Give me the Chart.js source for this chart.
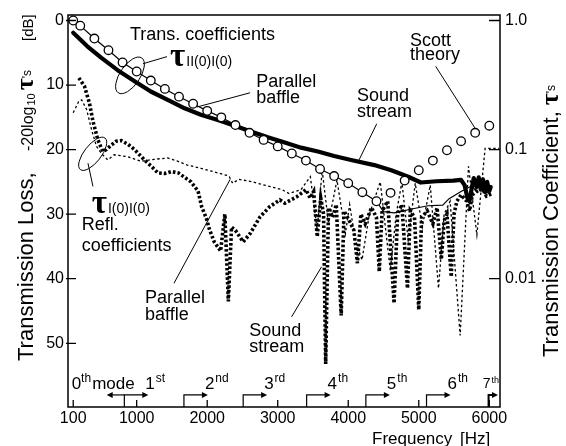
<!DOCTYPE html>
<html><head><meta charset="utf-8">
<script src="https://cdn.jsdelivr.net/npm/chart.js@4.4.1/dist/chart.umd.min.js"></script>
<style>html,body{margin:0;padding:0;background:#fff}canvas{display:block}</style>
</head><body>
<canvas id="c" width="566" height="446"></canvas>
<script>
// ---------------- data ----------------
const xTickValues = [100,1000,2000,3000,4000,5000,6000];
const yTickValues = [0,10,20,30,40,50];
const rightTickDb = [0,20,40];
const rightTickLabels = ['1.0','0.1','0.01'];

// Scott theory (open circles)
const scottFreq = [100,200,400,600,800,1000,1200,1400,1600,1800,2000,2200,2400,2600,2800,3000,3200,3400,3600,3800,4000,4200,4400,4600,4800,5000,5200,5400,5600,5800,6000];
const scottDb   = [0,0.8,2.8,4.6,6.5,7.9,9.3,10.6,11.8,12.9,14.0,15.0,16.2,17.4,18.5,19.5,20.6,21.7,23.0,24.1,25.2,26.6,28.0,26.7,24.8,23.2,21.7,20.1,18.7,17.4,16.3];

// Parallel baffle, transmission (thin solid)
const pbTransFreq = [100,200,400,600,800,1000,1200,1400,1600,1800,2000,2200,2400,2600,2800,3000,3200,3400,3600,3800,4000,4200,4400,4500,4650,4900,5130,5340,5430,5600,5700,5760,5800,5850,5900,5960,6020];
const pbTransDb   = [0,0.8,2.8,4.6,6.5,7.9,9.3,10.6,11.8,12.9,14.0,15.0,16.2,17.4,18.5,19.5,20.6,21.7,23.0,24.1,25.2,26.6,28.0,29.6,29.8,29.2,28.7,28.6,27.6,26.5,25.9,25.6,26.3,25.4,26.1,26.6,26.9];

// Sound stream, transmission (thick solid)
const ssTransFreq = [100,300,500,730,970,1200,1440,1680,1910,2150,2390,2620,2860,3100,3330,3570,3800,4040,4370,4610,4850,5030,5250,5490,5600,5650,5690,5720,5750,5780,5820,5850,5880,5910,5940,5970,6000,6020];
const ssTransDb   = [1.9,4.0,5.8,7.7,9.4,11.0,12.3,13.6,14.6,15.4,16.3,17.2,18.1,18.9,19.7,20.3,21.0,21.6,22.4,23.2,24.2,25.1,24.9,24.8,24.7,25.5,27.5,28.0,26.0,24.4,25.8,24.3,26.2,24.6,26.6,25.0,26.4,25.8];

// Parallel baffle, reflection (thin dotted)
const pbReflFreq = [100,180,220,290,360,430,500,590,680,870,1060,1250,1440,1580,1720,1910,2150,2310,2360,2450,2640,2880,3060,3160,3330,3463,3560,3630,3720,3840,3960,4020,4100,4195,4300,4454,4596,4680,4761,4850,4950,5050,5163,5280,5360,5445,5587,5705,5824,5941,6140];
const pbReflDb   = [14.3,12.5,12.3,13.8,16.9,19.5,20.6,21.6,20.8,21.1,21.8,21.5,21.3,21.8,22.4,22.9,23.6,24.1,25.2,24.6,25.0,25.7,26.2,26.8,26.2,24.2,32.5,23.2,31.4,24.7,33.0,28.5,34.0,37.1,30.0,25.0,38.7,30.0,25.0,34.0,25.2,32.0,25.5,41.5,30.0,28.0,48.8,22.6,33.2,19.8,19.8];

// Sound stream, reflection (thick dotted)
const ssReflFreq = [180,260,330,380,450,520,570,640,710,780,880,970,1110,1210,1300,1400,1490,1590,1680,1770,1870,1920,1990,2030,2100,2190,2250,2300,2345,2400,2510,2610,2750,2890,3030,3100,3270,3400,3460,3510,3560,3610,3650,3680,3720,3780,3830,3900,3940,4010,4080,4130,4180,4240,4330,4400,4440,4480,4560,4650,4700,4760,4840,4880,4940,5000,5040,5120,5200,5260,5320,5360,5400,5460,5500,5540,5600,5680,5720,5760,5820,5900,5960,6040];
const ssReflDb   = [8.9,10.2,12.8,15.6,18.5,20.3,20.0,19.3,18.7,18.6,19.2,20.0,21.6,22.6,23.6,23.7,23.4,23.6,24.3,25.0,26.4,28.8,30.7,32.3,34.3,35.7,30.0,43.5,32.0,32.5,34.3,33.0,30.4,28.8,27.8,28.3,27.3,26.2,27.5,26.5,33.5,27.5,30.0,53.2,29.0,30.5,28.5,45.7,29.5,30.9,32.5,37.6,30.0,31.5,29.0,30.5,38.9,29.5,28.0,43.8,30.0,28.5,41.5,29.5,30.5,44.8,30.5,29.5,31.5,29.0,37.0,31.0,30.0,39.7,30.0,28.0,27.0,28.0,29.5,27.0,26.5,26.0,27.2,26.8];

// Mode cut-on frequencies
const modeCutoffs = [825,1670,2510,3410,4250,5110,5990];
const modeNumbers = ['1','2','3','4','5','6','7'];
const modeSuffixes = ['st','nd','rd','th','th','th','th'];
const zerothModeArrowEnd = 575;

// ---------------- annotations (in data units) ----------------
const annoTexts = [
  {f:905,  db:2.95, t:'Trans. coefficients'},
  {f:2695, db:10.25, t:'Parallel'}, {f:2695, db:12.75, t:'baffle'},
  {f:4124, db:12.5, t:'Sound'}, {f:4124, db:14.95, t:'stream'},
  {f:4875, db:3.9, t:'Scott'}, {f:4875, db:6.05, t:'theory'},
  {f:220,  db:32.45, t:'Refl.'}, {f:220, db:35.7, t:'coefficients'},
  {f:1118, db:43.8, t:'Parallel'}, {f:1118, db:46.4, t:'baffle'},
  {f:2597, db:48.8, t:'Sound'}, {f:2597, db:51.35, t:'stream'}
];
const annoLeaders = [
  [1430,5.6, 1089,6.7],
  [2608,11.2, 1856,13.4],
  [4404,16.0, 4153,21.6],
  [5240,7.1, 5797,16.66],
  [309,22.1, 380,25.7],
  [1529,40.7, 2326,24.6],
  [3197,45.9, 3622,38.15]
];
const annoEllipses = [
  {f:905, db:8.5, a:21, b:10, rot:-56},
  {f:376, db:20.65, a:20, b:8.5, rot:-52}
];
const annoTau = [
  {f:1474, db:7.1, sub:'II(0)I(0)'},
  {f:362, db:29.8, sub:'I(0)I(0)'}
];

// ---------------- chart ----------------
const FONT = '"Liberation Sans", Arial, Helvetica, sans-serif';
const SERIF = '"Liberation Serif", "Times New Roman", serif';
const X_MIN = 26, X_MAX = 6152, Y_MIN = -0.85, Y_MAX = 59.87;

function pts(fs, ds){ return fs.map((f,i)=>({x:f, y:ds[i]})); }

function drawRot(c, x, y, segs){
  c.save(); c.translate(x, y); c.rotate(-Math.PI/2);
  c.textAlign='left'; c.textBaseline='alphabetic';
  let pos = 0;
  segs.forEach(s=>{ pos += s.gap||0; c.font = s.font; c.fillText(s.t, pos, s.dy||0); pos += c.measureText(s.t).width; });
  c.restore();
}
function arrowHead(c, x, y, dir){
  c.beginPath(); c.moveTo(x, y); c.lineTo(x - dir*6, y - 3); c.lineTo(x - dir*6, y + 3); c.closePath(); c.fill();
}

const overlay = {
  id:'overlay',
  afterDraw(chart){
    const c = chart.ctx, a = chart.chartArea, xs = chart.scales.x, ys = chart.scales.y;
    const X = f=>xs.getPixelForValue(f), Y = d=>ys.getPixelForValue(d);
    c.save();
    c.strokeStyle = '#000'; c.fillStyle = '#000';
    // frame
    c.lineWidth = 1.5;
    c.strokeRect(a.left, a.top, a.right - a.left, a.bottom - a.top);
    // inward ticks
    c.lineWidth = 1.3; c.beginPath();
    yTickValues.forEach(v=>{ const y = Y(v); c.moveTo(a.left - 2, y); c.lineTo(a.left + 8, y); });
    rightTickDb.forEach(v=>{ const y = Y(v); c.moveTo(a.right - 11, y); c.lineTo(a.right, y); });
    xTickValues.forEach(v=>{ const x = X(v); c.moveTo(x, a.bottom); c.lineTo(x, a.bottom - 7); });
    c.stroke();

    // mode markers
    const ya = Y(58), yl = Y(57.1);
    c.lineWidth = 1.2;
    const x0 = X(modeCutoffs[0]), xe0 = X(zerothModeArrowEnd);
    c.beginPath(); c.moveTo(x0, ya); c.lineTo(xe0 + 5, ya); c.stroke(); arrowHead(c, xe0, ya, -1);
    c.textBaseline = 'alphabetic'; c.textAlign = 'left';
    let px = X(78);
    c.font = '17px ' + FONT; c.fillText('0', px, yl); px += c.measureText('0').width;
    c.font = '12px ' + FONT; c.fillText('th', px, yl - 7); px += c.measureText('th').width + 1;
    c.font = '17px ' + FONT; c.fillText('mode', px, yl);
    modeCutoffs.forEach((fc,i)=>{
      const xv = X(fc);
      let xe = Math.min(X(fc + 340), a.right - 2);
      c.lineWidth = (i === modeCutoffs.length - 1) ? 2 : 1.2;
      c.beginPath(); c.moveTo(xv, a.bottom); c.lineTo(xv, ya); c.lineTo(xe - 5, ya); c.stroke();
      arrowHead(c, xe, ya, 1);
      const small = (i === modeCutoffs.length - 1);
      const mf = (small ? 14 : 17) + 'px ' + FONT, sf = (small ? 9 : 12) + 'px ' + FONT;
      c.font = mf; const w1 = c.measureText(modeNumbers[i]).width;
      c.font = sf; const w2 = c.measureText(modeSuffixes[i]).width;
      let lx = xe - 3;
      if (lx + w1 + w2 > a.right - 1) lx = a.right - 2 - w1 - w2;
      const lby = small ? Y(56.9) : yl;
      c.font = mf; c.fillText(modeNumbers[i], lx, lby);
      c.font = sf; c.fillText(modeSuffixes[i], lx + w1 + 1, lby - (small ? 5 : 7));
    });

    // annotation leaders
    c.lineWidth = 1;
    c.beginPath();
    annoLeaders.forEach(l=>{ c.moveTo(X(l[0]), Y(l[1])); c.lineTo(X(l[2]), Y(l[3])); });
    c.stroke();
    annoEllipses.forEach(e=>{
      c.beginPath(); c.ellipse(X(e.f), Y(e.db), e.a, e.b, e.rot*Math.PI/180, 0, 2*Math.PI); c.stroke();
    });
    // annotation texts
    c.font = '18px ' + FONT; c.textAlign = 'left'; c.textBaseline = 'alphabetic';
    annoTexts.forEach(t=>{ c.fillText(t.t, X(t.f), Y(t.db)); });
    annoTau.forEach(t=>{
      const x = X(t.f), y = Y(t.db);
      c.font = 'bold 33px ' + SERIF; c.fillText('τ', x, y);
      const w = c.measureText('τ').width;
      c.font = '14px ' + FONT; c.fillText(t.sub, x + w + 1, y);
    });

    // axis titles
    drawRot(c, 33, 361, [{t:'Transmission Loss,', font:'22px ' + FONT}]);
    drawRot(c, 33, 151, [
      {t:'-20log', font:'16px ' + FONT},
      {t:'10', font:'11px ' + FONT, dy:2, gap:1},
      {t:'τ', font:'bold 26px ' + SERIF, gap:3},
      {t:"'s", font:'12px ' + FONT, dy:-2}
    ]);
    drawRot(c, 33, 41, [{t:'[dB]', font:'15px ' + FONT}]);
    drawRot(c, 558, 357, [
      {t:'Transmission Coefficient,', font:'22px ' + FONT},
      {t:'τ', font:'bold 26px ' + SERIF, gap:6},
      {t:"'s", font:'12px ' + FONT, dy:-3}
    ]);
    c.font = '17px ' + FONT; c.textAlign = 'left';
    c.fillText('Frequency', 372, 444);
    c.fillText('[Hz]', 460, 444);
    c.restore();
  }
};

const tickFont = {family: FONT, size: 16};
new Chart(document.getElementById('c'), {
  type: 'line',
  data: { datasets: [
    { label:'Scott theory', data: pts(scottFreq, scottDb), showLine:false,
      pointRadius:4.3, pointStyle:'circle', pointBackgroundColor:'#fff', pointBorderColor:'#000', pointBorderWidth:1.3 },
    { label:'Parallel baffle (trans.)', data: pts(pbTransFreq, pbTransDb), borderColor:'#000', borderWidth:1.2, pointRadius:0 },
    { label:'Sound stream (trans.)', data: pts(ssTransFreq, ssTransDb), borderColor:'#000', borderWidth:4.2, pointRadius:0, borderJoinStyle:'round', borderCapStyle:'round' },
    { label:'Parallel baffle (refl.)', data: pts(pbReflFreq, pbReflDb), borderColor:'#000', borderWidth:1.3, borderDash:[2.5,2.5], pointRadius:0 },
    { label:'Sound stream (refl.)', data: pts(ssReflFreq, ssReflDb), borderColor:'#000', borderWidth:3.6, borderDash:[2.6,2.1], pointRadius:0 }
  ]},
  options: {
    responsive:false, animation:false, devicePixelRatio:1,
    layout:{ padding:{ top:15, left:0, right:0, bottom:0 } },
    plugins:{ legend:{display:false}, tooltip:{enabled:false} },
    elements:{ line:{ tension:0 } },
    scales:{
      x:{ type:'linear', min:X_MIN, max:X_MAX,
        afterBuildTicks: s=>{ s.ticks = xTickValues.map(v=>({value:v})); },
        ticks:{ font:tickFont, color:'#000', padding:2, maxRotation:0, autoSkip:false, callback:v=>String(v) },
        grid:{ display:false, drawTicks:false }, border:{ display:false },
        afterFit: s=>{ s.height = 39; } },
      y:{ type:'linear', position:'left', reverse:true, min:Y_MIN, max:Y_MAX,
        afterBuildTicks: s=>{ s.ticks = yTickValues.map(v=>({value:v})); },
        ticks:{ font:tickFont, color:'#000', padding:4, callback:v=>String(v) },
        grid:{ display:false, drawTicks:false }, border:{ display:false },
        afterFit: s=>{ s.width = 68; } },
      y2:{ type:'linear', position:'right', reverse:true, min:Y_MIN, max:Y_MAX,
        afterBuildTicks: s=>{ s.ticks = rightTickDb.map(v=>({value:v})); },
        ticks:{ font:tickFont, color:'#000', padding:5, callback:v=>rightTickLabels[rightTickDb.indexOf(v)] },
        grid:{ display:false, drawTicks:false }, border:{ display:false },
        afterFit: s=>{ s.width = 66; } }
    }
  },
  plugins:[overlay]
});
</script>
</body></html>
